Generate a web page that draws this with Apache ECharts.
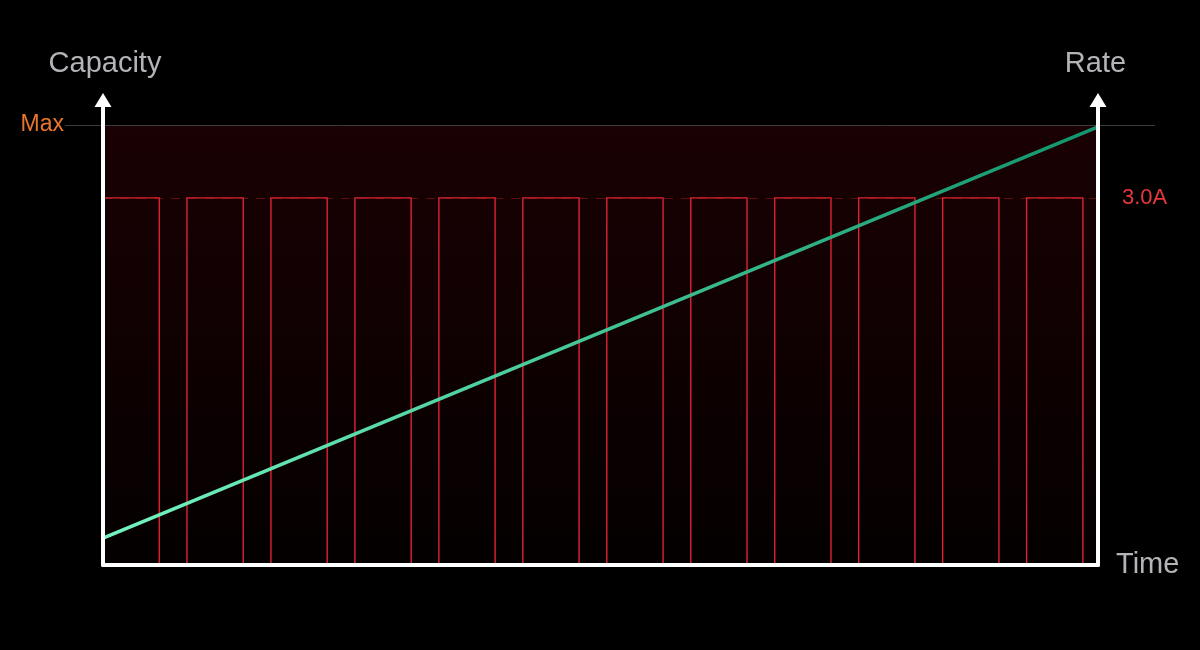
<!DOCTYPE html>
<html>
<head>
<meta charset="utf-8">
<script src="https://cdn.jsdelivr.net/npm/echarts@6/dist/echarts.min.js"></script>
<style>
html,body{margin:0;padding:0;background:#000;}
#chart{width:1200px;height:650px;}
</style>
</head>
<body>
<div id="chart"></div>
<script>
// ---- data ----
const timeExtent = [0, 118.5];
const pulseStart = [0, 10, 20, 30, 40, 50, 60, 70, 80, 90, 100, 110];
const pulseEnd = [6.7, 16.7, 26.7, 36.7, 46.7, 56.7, 66.7, 76.7, 86.7, 96.7, 106.7, 116.7];
const pulseRate = [3.0, 3.0, 3.0, 3.0, 3.0, 3.0, 3.0, 3.0, 3.0, 3.0, 3.0, 3.0];
const capacityTime = [0, 118.5];
const capacityValue = [5.8, 94.2];
const maxCapacity = 94.6;
const rateLevel = 3.0;
const rateLevelLabel = '3.0A';
const capacityExtent = [0, 100];
const rateExtent = [0, 3.8];

const pulses = pulseStart.map((s, i) => [s, pulseEnd[i], pulseRate[i]]);
const capacityLine = capacityTime.map((t, i) => [t, capacityValue[i]]);

const FONT = '"Liberation Sans", Arial, Helvetica, sans-serif';
const chart = echarts.init(document.getElementById('chart'));

const axisLineStyle = { color: '#fff', width: 4 };

chart.setOption({
  backgroundColor: '#000',
  animation: false,
  grid: { left: 103, right: 102, top: 100, bottom: 85 },
  xAxis: {
    type: 'value',
    z: 10,
    min: timeExtent[0], max: timeExtent[1],
    name: 'Time',
    nameLocation: 'end',
    nameGap: 18,
    nameTextStyle: { color: '#b4b4b8', fontSize: 29, fontFamily: FONT, padding: [0, 0, 14, 0] },
    axisLine: { show: true, lineStyle: axisLineStyle },
    axisTick: { show: false },
    axisLabel: { show: false },
    splitLine: { show: false }
  },
  yAxis: [
    {
      type: 'value',
      z: 10,
      min: capacityExtent[0], max: capacityExtent[1],
      name: 'Capacity',
      nameLocation: 'end',
      nameGap: 22,
      nameTextStyle: { color: '#b4b4b8', fontSize: 29, fontFamily: FONT, align: 'center', padding: [0, 0, 0, 4] },
      axisLine: { show: true, symbol: ['none', 'triangle'], symbolSize: [17, 14], lineStyle: axisLineStyle },
      axisTick: { show: false },
      axisLabel: { show: false },
      splitLine: { show: false }
    },
    {
      type: 'value',
      z: 10,
      position: 'right',
      min: rateExtent[0], max: rateExtent[1],
      name: 'Rate',
      nameLocation: 'end',
      nameGap: 22,
      nameTextStyle: { color: '#b4b4b8', fontSize: 29, fontFamily: FONT, align: 'center', padding: [0, 5, 0, 0] },
      axisLine: { show: true, symbol: ['none', 'triangle'], symbolSize: [17, 14], lineStyle: axisLineStyle },
      axisTick: { show: false },
      axisLabel: { show: false },
      splitLine: { show: false }
    }
  ],
  series: [
    {
      name: 'Pulses',
      type: 'custom',
      yAxisIndex: 1,
      z: 3,
      data: pulses,
      renderItem: function (params, api) {
        const p0 = api.coord([api.value(0), api.value(2)]);
        const p1 = api.coord([api.value(1), 0]);
        return {
          type: 'rect',
          shape: { x: p0[0], y: p0[1], width: p1[0] - p0[0], height: p1[1] - p0[1] },
          style: { fill: 'none', stroke: '#dc2430', lineWidth: 1.4 }
        };
      },
      markLine: {
        silent: true,
        symbol: 'none',
        z: 2,
        lineStyle: { color: 'rgba(190,25,35,0.45)', width: 1, type: [9, 8] },
        label: {
          show: true,
          position: 'end',
          distance: 24,
          formatter: rateLevelLabel,
          color: '#e8383c',
          fontSize: 22,
          fontFamily: FONT
        },
        data: [{ yAxis: rateLevel }]
      }
    },
    {
      name: 'Capacity',
      type: 'line',
      yAxisIndex: 0,
      z: 5,
      symbol: 'none',
      data: capacityLine,
      lineStyle: {
        width: 3.5,
        color: new echarts.graphic.LinearGradient(0, 0, 1, 0, [
          { offset: 0, color: '#74f5c0' },
          { offset: 1, color: '#12946c' }
        ])
      },
      markArea: {
        silent: true,
        z: 1,
        itemStyle: {
          color: new echarts.graphic.LinearGradient(0, 0, 0, 1, [
            { offset: 0, color: '#1a0103' },
            { offset: 1, color: '#040000' }
          ])
        },
        data: [[{ yAxis: 0 }, { yAxis: maxCapacity }]]
      },
      markLine: {
        silent: true,
        symbol: 'none',
        lineStyle: { color: '#3c3c3c', width: 1, type: 'solid' },
        label: {
          show: true,
          position: 'start',
          distance: 1,
          formatter: 'Max',
          color: '#e8762c',
          fontSize: 23,
          fontFamily: FONT
        },
        data: [[{ x: 65, yAxis: maxCapacity }, { x: 1155, yAxis: maxCapacity }]]
      }
    }
  ]
});
</script>
</body>
</html>
